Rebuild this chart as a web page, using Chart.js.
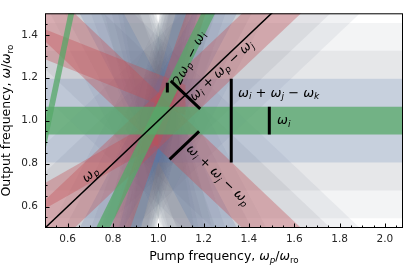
<!DOCTYPE html>
<html>
<head>
<meta charset="utf-8">
<script src="https://cdn.jsdelivr.net/npm/chart.js@4.4.1/dist/chart.umd.min.js"></script>
<style>
  html, body { margin: 0; padding: 0; background: #fff; }
</style>
</head>
<body>
<canvas id="chart" width="416" height="269"></canvas>
<script>
// axis ranges and ticks (units of omega_ro)
const xRange = [0.5, 2.08];
const yRange = [0.5, 1.5];
const xTicks = [0.6, 0.8, 1.0, 1.2, 1.4, 1.6, 1.8, 2.0];
const yTicks = [0.6, 0.8, 1.0, 1.2, 1.4];

// mixing-product bands: slope vs pump, output at pump = 1, half width, number of terms,
// pump range over which the band is drawn
const bandSlopes     = [0, 2.15, 5,      1, -1, 3, -0.42, 0.6,    0, 2, -2, 4,
                        -3, -1, 1, 3, 5,   -4, -2, 0, 2, 4, 6,   -5, -3, -1, 1, 3, 5, 7,
                        -6, -4, -2, 0, 2, 4, 6, 8];
const bandCentres    = [1, 1.026, 3.42,   1, 1, 1, 1.146, 0.95,    1, 1, 1, 1,
                        1, 1, 1, 1, 1,     1, 1, 1, 1, 1, 1,     1, 1, 1, 1, 1, 1, 1,
                        1, 1, 1, 1, 1, 1, 1, 1];
const bandHalfWidths = [0.065, 0.065, 0.065,   0.13, 0.13, 0.13, 0.07, 0.06,
                        0.195, 0.195, 0.195, 0.195,
                        0.26, 0.26, 0.26, 0.26, 0.26,
                        0.325, 0.325, 0.325, 0.325, 0.325, 0.325,
                        0.39, 0.39, 0.39, 0.39, 0.39, 0.39, 0.39,
                        0.455, 0.455, 0.455, 0.455, 0.455, 0.455, 0.455, 0.455];
const bandTerms      = [1, 1, 1,   2, 2, 2, 2, 2,   3, 3, 3, 3,
                        4, 4, 4, 4, 4,   5, 5, 5, 5, 5, 5,   6, 6, 6, 6, 6, 6, 6,
                        7, 7, 7, 7, 7, 7, 7, 7];
const bandPumpTo     = { 6: 1.12, 7: 1.0 };

// pump line omega = omega_p
const pumpSlope = 1;
const pumpOffset = 0;

const termStyle = {
  1: { color: 'rgba(85,168,104,0.75)', order: 20 },
  2: { color: 'rgba(196,78,82,0.36)', order: 30 },
  3: { color: 'rgba(76,114,176,0.2)', order: 40 },
  4: { color: 'rgba(105,112,128,0.11)', order: 50 },
  5: { color: 'rgba(105,112,128,0.1)', order: 60 },
  6: { color: 'rgba(105,112,128,0.09)', order: 70 },
  7: { color: 'rgba(105,112,128,0.08)', order: 80 }
};

const xs = [xRange[0] - 0.05, xRange[1] + 0.05];

function bandLine(i, x, side) {
  return bandCentres[i] + side * bandHalfWidths[i] + bandSlopes[i] * (x - 1);
}

const datasets = [];
bandSlopes.forEach((k, i) => {
  const st = termStyle[bandTerms[i]];
  const x0 = xs[0], x1 = bandPumpTo[i] !== undefined ? bandPumpTo[i] : xs[1];
  datasets.push({
    type: 'line',
    data: [
      { x: x0, y: bandLine(i, x0, -1) },
      { x: x1, y: bandLine(i, x1, -1) },
      { x: x1, y: bandLine(i, x1, 1) },
      { x: x0, y: bandLine(i, x0, 1) }
    ],
    fill: 'shape',
    backgroundColor: st.color,
    borderWidth: 0,
    pointRadius: 0,
    order: st.order
  });
});

// pump line
datasets.push({
  type: 'line',
  data: xs.map(x => ({ x: x, y: pumpOffset + pumpSlope * x })),
  borderColor: '#000',
  borderWidth: 1.5,
  pointRadius: 0,
  fill: false,
  order: 1
});

// width markers across a band at a given pump value
function marker(i, x0) {
  const k = bandSlopes[i], w = bandHalfWidths[i];
  const yc = bandLine(i, x0, 0);
  if (k === 0) return [{ x: x0, y: yc - w }, { x: x0, y: yc + w }];
  const n = Math.sqrt(1 + k * k);
  const d = w / n;
  return [{ x: x0 - d * k / n, y: yc + d / n }, { x: x0 + d * k / n, y: yc - d / n }];
}
// short upright tick on the upper edge of a band
function edgeTick(i, x0) {
  const yc = bandLine(i, x0, 0), w = bandHalfWidths[i];
  return [{ x: x0, y: yc + 0.3 * w }, { x: x0, y: yc + w }];
}
const markers = [
  marker(0, 1.49),
  marker(8, 1.322),
  marker(4, 1.115),
  marker(3, 1.12),
  edgeTick(1, 1.04)
];
markers.forEach(pts => {
  datasets.push({
    type: 'line',
    data: pts,
    borderColor: '#000',
    borderWidth: 3,
    borderCapStyle: 'butt',
    pointRadius: 0,
    fill: false,
    order: 0
  });
});

// math text helper: parts [text, style] style: '' upright, 'i' italic, 's' italic sub, 'r' upright sub
const FONT = "'DejaVu Sans'";
function partFont(style, size) {
  const sub = style === 's' || style === 'r';
  const it = style === 'i' || style === 's';
  return (it ? 'italic ' : '') + (sub ? size * 0.7 : size) + 'px ' + FONT;
}
function drawMath(ctx, parts, x, y, size, angle, align) {
  ctx.save();
  ctx.translate(x, y);
  ctx.rotate(angle);
  let total = 0;
  parts.forEach(p => { ctx.font = partFont(p[1], size); total += ctx.measureText(p[0]).width; });
  let cx = align === 'left' ? 0 : -total / 2;
  ctx.textBaseline = 'middle';
  ctx.fillStyle = '#000';
  parts.forEach(p => {
    ctx.font = partFont(p[1], size);
    const sub = p[1] === 's' || p[1] === 'r';
    ctx.fillText(p[0], cx, sub ? size * 0.28 : 0);
    cx += ctx.measureText(p[0]).width;
  });
  ctx.restore();
}

const w = 'ω';
const bandLabels = [
  { parts: [[w, 'i'], ['p', 's']], band: -1, x: 0.70, y: 0.748 },
  { parts: [['2', ''], [w, 'i'], ['p', 's'], [' \u2212 ', ''], [w, 'i'], ['i', 's']], band: 1, x: 1.14, y: 1.29 },
  { parts: [[w, 'i'], ['i', 's'], [' + ', ''], [w, 'i'], ['p', 's'], [' \u2212 ', ''], [w, 'i'], ['j', 's']], band: 3, x: 1.28, y: 1.232 },
  { parts: [[w, 'i'], ['i', 's'], [' + ', ''], [w, 'i'], ['j', 's'], [' \u2212 ', ''], [w, 'i'], ['p', 's']], band: 4, x: 1.263, y: 0.745 },
  { parts: [[w, 'i'], ['i', 's'], [' + ', ''], [w, 'i'], ['j', 's'], [' \u2212 ', ''], [w, 'i'], ['k', 's']], band: 8, x: 1.352, y: 1.127, align: 'left' },
  { parts: [[w, 'i'], ['i', 's']], band: 0, x: 1.524, y: 1.0, align: 'left' }
];

const minorX = [], minorY = [];
for (let v = 0.55; v < 2.08; v += 0.05) minorX.push(Math.round(v * 100) / 100);
for (let v = 0.55; v < 1.5; v += 0.05) minorY.push(Math.round(v * 100) / 100);

const decorations = {
  id: 'decorations',
  afterDatasetsDraw(chart) {
    const { ctx, scales: { x, y } } = chart;
    bandLabels.forEach(l => {
      const k = l.band < 0 ? pumpSlope : bandSlopes[l.band];
      let ang = 0;
      if (k !== 0) {
        const dx = x.getPixelForValue(l.x + 0.1) - x.getPixelForValue(l.x);
        const dy = y.getPixelForValue(l.y + 0.1 * k) - y.getPixelForValue(l.y);
        ang = Math.atan2(dy, dx);
      }
      drawMath(ctx, l.parts, x.getPixelForValue(l.x), y.getPixelForValue(l.y), 13, ang, l.align);
    });
  },
  afterDraw(chart) {
    const { ctx, chartArea: a, scales: { x, y } } = chart;
    ctx.save();
    ctx.strokeStyle = '#000';
    ctx.lineWidth = 1;
    ctx.strokeRect(a.left + 0.5, a.top + 0.5, a.right - a.left - 1, a.bottom - a.top - 1);
    ctx.beginPath();
    const tick = (vals, len) => {
      vals.forEach(v => {
        const px = Math.round(x.getPixelForValue(v)) + 0.5;
        if (px > a.left && px < a.right) { ctx.moveTo(px, a.bottom); ctx.lineTo(px, a.bottom - len); }
      });
    };
    const tickY = (vals, len) => {
      vals.forEach(v => {
        const py = Math.round(y.getPixelForValue(v)) + 0.5;
        if (py > a.top && py < a.bottom) { ctx.moveTo(a.left, py); ctx.lineTo(a.left + len, py); }
      });
    };
    tick(xTicks, 4.5); tickY(yTicks, 4.5);
    tick(minorX, 2.5); tickY(minorY, 2.5);
    ctx.stroke();
    ctx.restore();
    // axis titles
    drawMath(ctx, [['Pump frequency, ', ''], [w, 'i'], ['p', 's'], ['/', ''], [w, 'i'], ['ro', 'r']],
      (a.left + a.right) / 2, 257, 12.5, 0);
    drawMath(ctx, [['Output frequency, ', ''], [w, 'i'], ['/', ''], [w, 'i'], ['ro', 'r']],
      7, (a.top + a.bottom) / 2, 12.5, -Math.PI / 2);
  }
};

const tickFont = { family: 'DejaVu Sans', size: 10.5 };
new Chart(document.getElementById('chart'), {
  type: 'scatter',
  data: { datasets },
  options: {
    responsive: false,
    animation: false,
    events: [],
    layout: { padding: { top: 3, right: 13, left: 0, bottom: 0 } },
    plugins: { legend: { display: false }, tooltip: { enabled: false } },
    scales: {
      x: {
        type: 'linear', min: xRange[0], max: xRange[1],
        afterFit: s => { s.height = 41; },
        afterBuildTicks: s => { s.ticks = xTicks.map(v => ({ value: v })); },
        grid: { display: false, drawTicks: false },
        border: { display: false },
        ticks: { font: tickFont, color: '#262626', padding: 5, maxRotation: 0, callback: v => v.toFixed(1) }
      },
      y: {
        type: 'linear', min: yRange[0], max: yRange[1],
        afterFit: s => { s.width = 45; },
        afterBuildTicks: s => { s.ticks = yTicks.map(v => ({ value: v })); },
        grid: { display: false, drawTicks: false },
        border: { display: false },
        ticks: { font: tickFont, color: '#262626', padding: 7, callback: v => v.toFixed(1) }
      }
    }
  },
  plugins: [decorations]
});
</script>
</body>
</html>
